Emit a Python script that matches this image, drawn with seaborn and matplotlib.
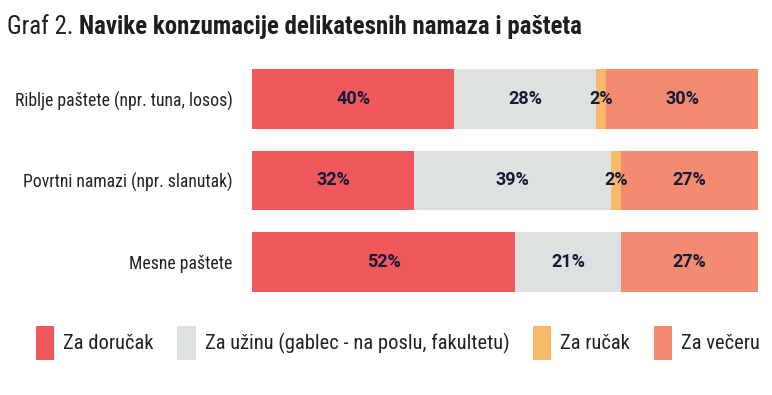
import numpy as np
import pandas as pd
import matplotlib
matplotlib.use("Agg")
import matplotlib.pyplot as plt
import seaborn as sns
from matplotlib.patches import Patch

# podaci
kategorije = ["Riblje paštete (npr. tuna, losos)",
              "Povrtni namazi (npr. slanutak)",
              "Mesne paštete"]
serije = ["Za doručak", "Za užinu (gablec - na poslu, fakultetu)",
          "Za ručak", "Za večeru"]
dorucak = [40, 32, 52]
uzina = [28, 39, 21]
rucak = [2, 2, 0]
vecera = [30, 27, 27]
boje = ["#F0585B", "#DDE2E0", "#F8B96B", "#F28B6F"]

sns.set_theme(style="white")
plt.rcParams["font.family"] = ["Roboto Condensed", "DejaVu Sans"]
plt.rcParams["font.stretch"] = "condensed"

tekst_boja = "#141A38"

df = pd.DataFrame({"kategorija": kategorije, "d": dorucak, "u": uzina,
                   "r": rucak, "v": vecera})
vrijednosti = df[["d", "u", "r", "v"]].to_numpy()
kumulativ = vrijednosti.cumsum(axis=1)

fig = plt.figure(figsize=(7.72, 3.95), dpi=100)
ax = fig.add_axes([252 / 772, 1 - 303 / 395, 506 / 772, 245 / 395])

# slagani stupci: od najvece kumulativne sume prema manjoj
for i in range(3, -1, -1):
    sns.barplot(x=kumulativ[:, i], y=df["kategorija"], orient="h",
                color=boje[i], saturation=1, width=0.73, ax=ax,
                edgecolor="none", linewidth=0)

# oznake postotaka
for j in range(len(kategorije)):
    lijevo = 0
    for i in range(4):
        v = vrijednosti[j, i]
        if v > 0:
            ax.text(lijevo + v / 2, j, f"{v}%", ha="center", va="center",
                    fontsize=13, fontweight="bold", color=tekst_boja,
                    family=["Roboto", "DejaVu Sans"], fontstretch="normal")
        lijevo += v

ax.set_xlim(0, 100)
ax.set_ylim(2.5, -0.5)
ax.set_xlabel("")
ax.set_ylabel("")
ax.set_xticks([])
ax.tick_params(axis="y", length=0, pad=14, labelsize=12.7, labelcolor="#222222")
sns.despine(ax=ax, left=True, bottom=True)

# naslov
t1 = fig.text(7 / 772, 1 - 34 / 395, "Graf 2. ", fontsize=17.9, color="#1E1E1E",
              va="baseline")
fig.canvas.draw()
bb = t1.get_window_extent()
fig.text(bb.x1 / fig.bbox.width, 1 - 34 / 395,
         "Navike konzumacije delikatesnih namaza i pašteta",
         fontsize=17.9, fontweight="bold", color="#1E1E1E", va="baseline")

# legenda
rucke = [Patch(facecolor=b, edgecolor="none") for b in boje]
fig.legend(rucke, serije, loc="upper left",
           bbox_to_anchor=(36 / 772, 1 - 326 / 395), ncol=4, frameon=False,
           fontsize=14.8, handlelength=0.88, handleheight=2.15,
           handletextpad=0.45, columnspacing=1.15, borderpad=0,
           borderaxespad=0, labelcolor="#222222")

fig.savefig("out.png", dpi=100)
